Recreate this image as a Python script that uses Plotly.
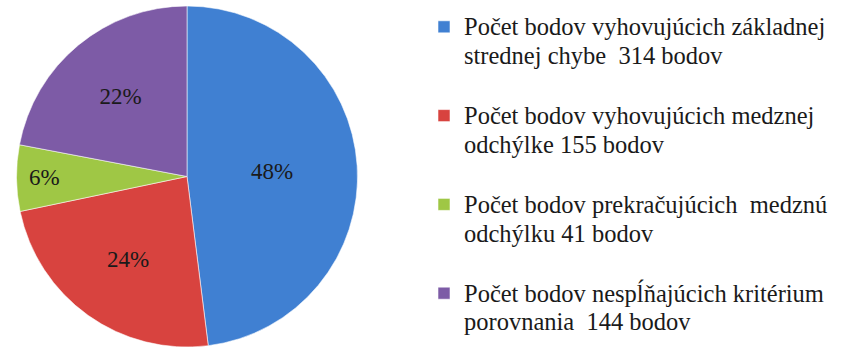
import plotly.graph_objects as go

# Rozdelenie kontrolných bodov podľa kritérií presnosti
labels = [
    "Počet bodov vyhovujúcich základnej<br>strednej chybe  314 bodov",
    "Počet bodov vyhovujúcich medznej<br>odchýlke 155 bodov",
    "Počet bodov prekračujúcich  medznú<br>odchýlku 41 bodov",
    "Počet bodov nespĺňajúcich kritérium<br>porovnania  144 bodov",
]
values = [314, 155, 41, 144]
colors = ["#4080d2", "#d8433f", "#9fc745", "#7d5ba6"]

SERIF = "Liberation Serif"
LEGEND_GLYPH_PX = 24.5   # glyph size of legend text
LEGEND_LINE_PX = 22      # legend font size, sets the line pitch


def legend_name(text, last):
    # larger glyphs inside a tighter line pitch; an empty line separates entries
    body = "<br>".join(
        f'<span style="font-size:{LEGEND_GLYPH_PX}px">{part}</span>' for part in text.split("<br>")
    )
    return body if last else body + "<br> "


names = [legend_name(t, i == len(labels) - 1) for i, t in enumerate(labels)]

W, H = 842, 347
T, B = 6, 0
plot_h = H - T - B
cx = 187

fig = go.Figure(
    go.Pie(
        labels=names,
        values=values,
        sort=False,
        direction="clockwise",
        rotation=0,
        marker=dict(colors=colors, line=dict(color="rgba(255,255,255,0.55)", width=1)),
        textinfo="percent",
        texttemplate="%{percent:.0%}",
        textposition="inside",
        insidetextorientation="horizontal",
        textfont=dict(family=SERIF, size=23, color="#1a1a1a"),
        domain=dict(x=[(cx - plot_h / 2) / W, (cx + plot_h / 2) / W], y=[0, 1]),
        hovertext=labels,
        hoverinfo="text+value+percent",
    )
)

fig.update_layout(
    width=W,
    height=H,
    margin=dict(l=0, r=0, t=T, b=B),
    paper_bgcolor="white",
    plot_bgcolor="white",
    font=dict(family=SERIF),
    showlegend=True,
    legend=dict(
        x=424 / W,
        y=1,
        xanchor="left",
        yanchor="top",
        valign="top",
        font=dict(family=SERIF, size=LEGEND_LINE_PX, color="#1a1a1a"),
        bgcolor="rgba(0,0,0,0)",
        itemclick=False,
    ),
)

fig.write_html("out.html")
